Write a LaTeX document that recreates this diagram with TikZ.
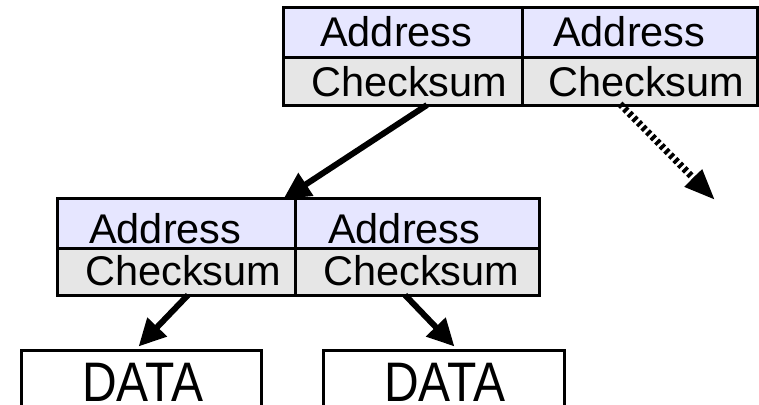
\documentclass[tikz,border=0pt]{standalone}
\usepackage{fontspec}
\setmainfont{Liberation Sans}
\usetikzlibrary{arrows.meta}
\definecolor{addrfill}{HTML}{E6E6FF}
\definecolor{sumfill}{HTML}{E6E6E6}
\tikzset{
  cellbox/.style={draw=black, line width=3pt},
  label41/.style={inner sep=0pt, anchor=base west, font=\fontsize{41.5}{41.5}\selectfont},
  datalabel/.style={inner sep=0pt, anchor=base west, font=\fontsize{48}{48}\selectfont},
  link/.style={line width=6pt, -{Triangle[length=27pt,width=26pt]}, shorten >=-2pt},
  maybelink/.style={line width=7pt, dash pattern=on 3.5pt off 3pt,
    -{Triangle[length=31pt,width=23pt]}},
}
\begin{document}
\begin{tikzpicture}[x=1pt, y=-1pt]
  \useasboundingbox (0,0) rectangle (759,404);
  \begin{scope}
    \clip (0,0) rectangle (759,404);

    % upper index block: two entries
    \fill[addrfill] (283,8) rectangle (757,57);
    \fill[sumfill] (283,57) rectangle (757,105);
    \draw[cellbox] (283,8) rectangle (757,105);
    \draw[cellbox] (283,57) -- (757,57);
    \draw[cellbox] (522,8) -- (522,105);
    \node[label41] (ta1) at (320,47) {Address};
    \node[label41] (ts1) at (311,96) {Checksum};
    \node[label41] (ta2) at (553,47) {Address};
    \node[label41] (ts2) at (548,96) {Checksum};

    % lower index block: two entries
    \fill[addrfill] (57,198) rectangle (539,248);
    \fill[sumfill] (57,248) rectangle (539,295);
    \draw[cellbox] (57,198) rectangle (539,295);
    \draw[cellbox] (57,248) -- (539,248);
    \draw[cellbox] (295,198) -- (295,295);
    \node[label41] (ba1) at (89,243) {Address};
    \node[label41] (bs1) at (85,285) {Checksum};
    \node[label41] (ba2) at (328,243) {Address};
    \node[label41] (bs2) at (323,285) {Checksum};

    % data blocks
    \draw[cellbox] (21,420) -- (21,350) -- (261,350) -- (261,420);
    \draw[cellbox] (323,420) -- (323,350) -- (564,350) -- (564,420);
    \node[datalabel] (d1) at (82,401) {\scalebox{1}[1.16]{DATA}};
    \node[datalabel] (d2) at (384,401) {\scalebox{1}[1.16]{DATA}};

    % pointer endpoints
    \coordinate (p1s) at (427,105);
    \coordinate (p1e) at (285,198);
    \coordinate (p2s) at (620,104);
    \coordinate (p2e) at (715,200);
    \coordinate (p3s) at (188,295);
    \coordinate (p3e) at (140,345);
    \coordinate (p4s) at (405,295);
    \coordinate (p4e) at (453,345);

    \draw[link] (p1s) -- (p1e);
    \draw[maybelink] (p2s) -- (p2e);
    \draw[link] (p3s) -- (p3e);
    \draw[link] (p4s) -- (p4e);
  \end{scope}
\end{tikzpicture}
\end{document}
